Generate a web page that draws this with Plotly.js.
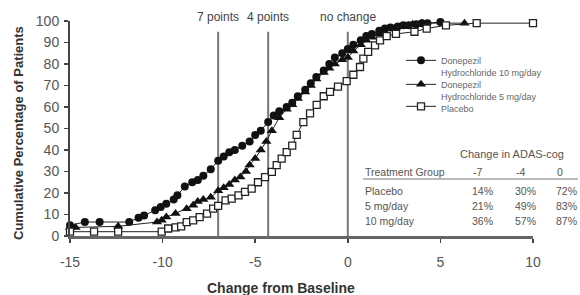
<!DOCTYPE html>
<html>
<head>
<meta charset="utf-8">
<script src="https://cdn.plot.ly/plotly-3.0.1.min.js"></script>
<style>html,body{margin:0;padding:0;background:#fff;}#chart{width:580px;height:295px;}</style>
</head>
<body>
<div id="chart"></div>
<script>
// ---- data ----
const x10 = [-15, -14.2, -13.4, -11.8, -11.3, -11, -10.4, -10.1, -9.8, -9.4, -9.2, -8.8, -8.4, -8.1, -7.8, -7.4, -7.0, -6.7, -6.4, -6.1, -5.7, -5.3, -5.0, -4.7, -4.3, -4.0, -3.7, -3.3, -3.0, -2.7, -2.3, -2.0, -1.7, -1.3, -1.0, -0.7, -0.3, 0, 0.3, 0.7, 1.0, 1.3, 1.7, 2.0, 2.3, 2.7, 3.0, 3.3, 3.7, 4.0, 4.3, 5.0];
const y10 = [5, 6.5, 6.5, 6.5, 8.5, 9.5, 12, 13.5, 15, 17, 19, 23, 25, 26, 28, 31, 35, 37, 39, 40, 42, 44, 47, 49, 53, 56, 58, 60, 62, 65, 68, 71, 74, 77, 80, 83, 85, 87, 89, 91, 93, 94, 95.5, 96.5, 97, 97.5, 98, 98, 98.5, 99, 99, 99.5];

const x5 = [-15, -14.7, -12.4, -10.3, -10.05, -9.8, -9.3, -8.7, -8.35, -8.1, -7.8, -7.4, -7.0, -6.7, -6.4, -6.1, -5.8, -5.5, -5.3, -5.0, -4.7, -4.4, -4.1, -3.7, -3.3, -3.0, -2.7, -2.3, -2.0, -1.7, -1.3, -1.0, -0.7, -0.3, 0, 0.3, 0.7, 1.0, 1.3, 1.7, 2.0, 2.5, 3.0, 3.5, 4.0, 6.3];
const y5 = [4, 4, 4.5, 6.5, 7.3, 8.8, 10.5, 12.7, 14.3, 16, 17, 18, 21, 22.5, 24, 26, 27.5, 30, 33, 36, 40, 44, 49, 55, 59, 61, 64, 67, 70, 73, 76, 78, 80, 82, 83, 86, 89, 91, 92.5, 94, 95, 96.5, 97.5, 98.5, 99, 99];

const xP = [-15, -13.7, -12.4, -10.05, -9.7, -9.3, -9.0, -8.7, -8.35, -8.0, -7.6, -7.27, -7.0, -6.6, -6.27, -5.9, -5.55, -5.19, -4.85, -4.47, -4.1, -3.84, -3.57, -3.3, -3.0, -2.76, -2.4, -2.04, -1.68, -1.3, -0.96, -0.53, -0.06, 0.3, 0.66, 0.84, 1.1, 1.47, 1.74, 2.1, 2.6, 3.6, 4.26, 5.3, 6.96, 10];
const yP = [2, 2, 2, 2, 3.5, 4, 4.5, 6.5, 7.3, 8.8, 10.4, 12.7, 14, 16.6, 17.4, 18.9, 20.5, 22, 25, 27.4, 29.8, 33, 36, 39, 42, 47, 53, 57, 61, 65, 67, 69.5, 72, 75, 78.6, 82.5, 85.6, 88.7, 91, 93, 94, 95, 96.5, 98, 99, 99];

const seriesNames = ["Donepezil<br>Hydrochloride 10 mg/day", "Donepezil<br>Hydrochloride 5 mg/day", "Placebo"];

const refLineX = [-7, -4.3, 0];
const refLineLabels = ["7 points", "4 points", "no change"];

const xTickVals = [-15, -10, -5, 0, 5, 10];
const xTickText = ["-15", "-10", "-5", "0", "5", "10"];
const yTickVals = [0, 10, 20, 30, 40, 50, 60, 70, 80, 90, 100];

const tableTitle = "Change in ADAS-cog";
const tableHeader = ["Treatment Group", "-7", "-4", "0"];
const tableGroups = ["Placebo", "5 mg/day", "10 mg/day"];
const tableValues = [["14%", "30%", "72%"], ["21%", "49%", "83%"], ["36%", "57%", "87%"]];

// ---- layout helpers (pixel -> paper) ----
const L = 70, R = 47, T = 21, B = 59, W = 580, H = 295;
const PW = W - L - R, PH = H - T - B;
const px = v => (v - L) / PW;
const py = v => (H - B - v) / PH;

const textCol = "#555";
const tfont = {family: "Liberation Sans, Arial, sans-serif", size: 10.5, color: textCol};

const traces = [
  {x: x10, y: y10, name: seriesNames[0], legend: "legend", mode: "lines+markers", cliponaxis: false,
   line: {color: "#222", width: 1}, marker: {symbol: "circle", size: 8, color: "#111"}},
  {x: x5, y: y5, name: seriesNames[1], legend: "legend2", mode: "lines+markers", cliponaxis: false,
   line: {color: "#222", width: 1}, marker: {symbol: "triangle-up", size: 9, color: "#111"}},
  {x: xP, y: yP, name: seriesNames[2], legend: "legend3", mode: "lines+markers", cliponaxis: false,
   line: {color: "#222", width: 1}, marker: {symbol: "square", size: 7, color: "#fff", line: {color: "#222", width: 1.3}}}
];

const shapes = refLineX.map(v => ({type: "line", xref: "x", yref: "y", x0: v, x1: v, y0: 0, y1: 95,
  line: {color: "#777", width: 2}, layer: "below"}));
shapes.push({type: "line", xref: "paper", yref: "paper", x0: px(363), x1: px(578), y0: py(179), y1: py(179),
  line: {color: "#777", width: 1.2}});

const annotations = [];
refLineX.forEach((v, i) => annotations.push({x: v, xref: "x", y: py(17), yref: "paper", text: refLineLabels[i],
  showarrow: false, xanchor: "center", yanchor: "middle", font: {family: "Liberation Sans, Arial, sans-serif", size: 12, color: "#444"}}));
annotations.push({x: px(458), xref: "paper", y: py(154), yref: "paper", text: tableTitle, showarrow: false,
  xanchor: "left", yanchor: "middle", font: {family: "Liberation Sans, Arial, sans-serif", size: 11, color: textCol}});
const colX = [473, 516, 557];
annotations.push({x: px(363), xref: "paper", y: py(172), yref: "paper", text: tableHeader[0], showarrow: false,
  xanchor: "left", yanchor: "middle", font: tfont});
for (let c = 0; c < 3; c++) annotations.push({x: px(colX[c] - 2), xref: "paper", y: py(172), yref: "paper", text: tableHeader[c + 1],
  showarrow: false, xanchor: "left", yanchor: "middle", font: tfont});
const rowY = [191, 206, 221];
tableGroups.forEach((g, r) => {
  annotations.push({x: px(363), xref: "paper", y: py(rowY[r]), yref: "paper", text: g, showarrow: false,
    xanchor: "left", yanchor: "middle", font: tfont});
  for (let c = 0; c < 3; c++) annotations.push({x: px(colX[c] + 9), xref: "paper", y: py(rowY[r]), yref: "paper",
    text: tableValues[r][c], showarrow: false, xanchor: "center", yanchor: "middle", font: tfont});
});
annotations.push({x: px(281), xref: "paper", y: py(288), yref: "paper", text: "<b>Change from Baseline</b>",
  showarrow: false, xanchor: "center", yanchor: "middle", font: {family: "Liberation Sans, Arial, sans-serif", size: 14, color: "#333"}});
annotations.push({x: px(18), xref: "paper", y: py(133), yref: "paper", text: "<b>Cumulative Percentage of Patients</b>",
  showarrow: false, textangle: -90, xanchor: "center", yanchor: "middle", font: {family: "Liberation Sans, Arial, sans-serif", size: 13, color: "#333"}});

const legBase = {x: px(401), xanchor: "left", yanchor: "top", bgcolor: "rgba(0,0,0,0)",
  font: {size: 9, color: "#666"}, itemwidth: 30, valign: "top"};

const layout = {
  width: W, height: H, margin: {l: L, r: R, t: T, b: B}, paper_bgcolor: "#fff", plot_bgcolor: "#fff",
  font: {family: "Liberation Sans, Arial, sans-serif", color: textCol},
  xaxis: {range: [-15, 10], tickvals: xTickVals, ticktext: xTickText, showgrid: false, zeroline: false,
    showline: true, linecolor: "#666", linewidth: 2.5, ticks: "outside", ticklen: 4, tickwidth: 1.5, tickcolor: "#444",
    tickfont: {size: 14, color: textCol}, ticklabelstandoff: 8},
  yaxis: {range: [0, 100], tickvals: yTickVals, showgrid: false, zeroline: false,
    showline: true, linecolor: "#444", linewidth: 2, ticks: "outside", ticklen: 4, tickwidth: 1.5, tickcolor: "#444",
    tickfont: {size: 14, color: textCol}, ticklabelstandoff: 2},
  showlegend: true,
  legend: Object.assign({}, legBase, {y: py(48)}),
  legend2: Object.assign({}, legBase, {y: py(72)}),
  legend3: Object.assign({}, legBase, {y: py(94)}),
  shapes: shapes, annotations: annotations
};

Plotly.newPlot("chart", traces, layout, {displayModeBar: false, staticPlot: true});
</script>
</body>
</html>
